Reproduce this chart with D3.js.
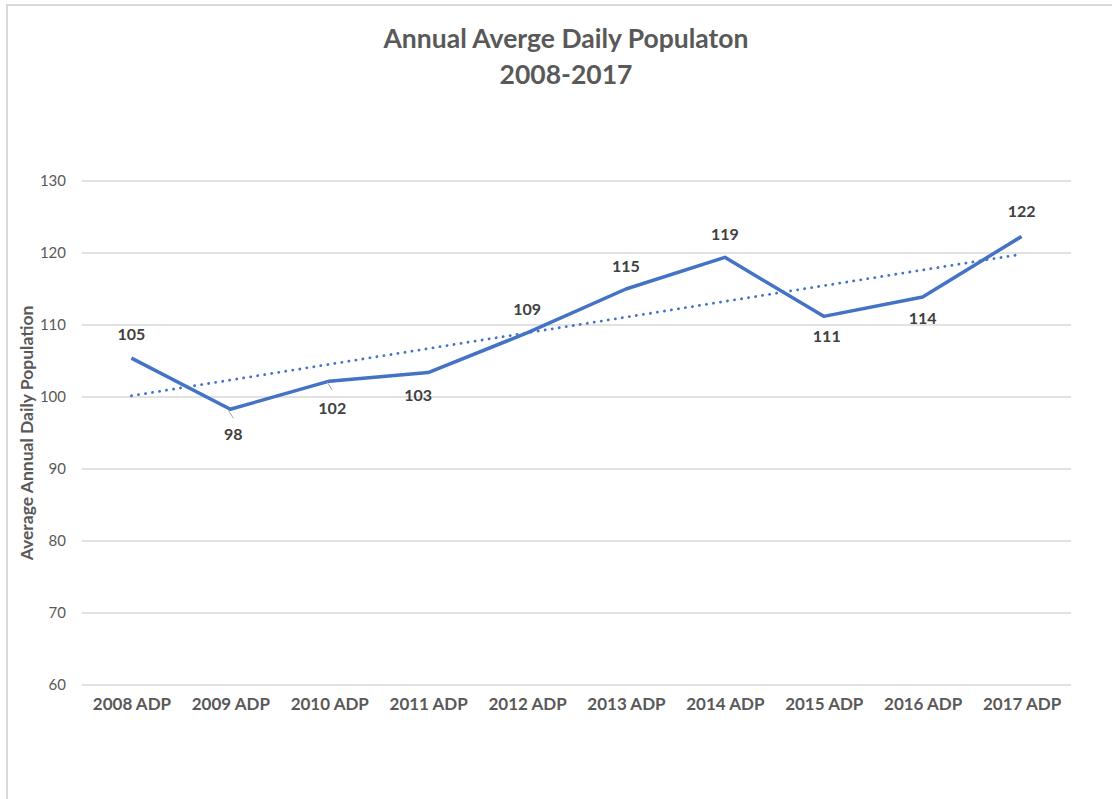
<!DOCTYPE html>
<html>
<head>
<meta charset="utf-8">
<script src="https://cdn.jsdelivr.net/npm/d3@7"></script>
<style>
  body { margin: 0; background: #fff; }
  svg text { font-family: Lato, "Open Sans", sans-serif; fill: #595959; }
</style>
</head>
<body>
<div id="chart"></div>
<script>
// Chart data.
var categories = ['2008 ADP', '2009 ADP', '2010 ADP', '2011 ADP', '2012 ADP',
                  '2013 ADP', '2014 ADP', '2015 ADP', '2016 ADP', '2017 ADP'];
var adpValues = [105.4, 98.3, 102.2, 103.4, 108.9, 115.0, 119.4, 111.2, 113.9, 122.3];
var yTicks = [60, 70, 80, 90, 100, 110, 120, 130];

var width = 1112, height = 799;
var margin = {top: 181, right: 41, bottom: 114, left: 82};

var svg = d3.select('#chart')
            .append('svg')
            .attr('width', width)
            .attr('height', height);

// Chart area border (left and top edges visible).
svg.append('rect')
   .attr('x', 7)
   .attr('y', 5)
   .attr('width', width)
   .attr('height', height)
   .attr('fill', 'none')
   .attr('stroke', '#d9d9d9')
   .attr('stroke-width', 2);

var x = d3.scalePoint()
          .domain(categories)
          .range([margin.left, width - margin.right])
          .padding(0.5);

var y = d3.scaleLinear()
          .domain([60, 130])
          .range([height - margin.bottom, margin.top]);

// Gridlines.
svg.append('g')
   .selectAll('line')
   .data(yTicks)
   .join('line')
   .attr('x1', margin.left)
   .attr('x2', width - margin.right)
   .attr('y1', function(d) { return y(d); })
   .attr('y2', function(d) { return y(d); })
   .attr('stroke', '#d9d9d9')
   .attr('stroke-width', 1.3);

// Y axis labels.
var yAxis = svg.append('g')
   .attr('transform', 'translate(' + (margin.left - 16) + ',0)')
   .call(d3.axisLeft(y).tickValues(yTicks).tickSize(0).tickPadding(0));
yAxis.select('.domain').remove();
yAxis.selectAll('text')
     .attr('font-size', 15)
     .style('fill', '#595959')
     .style('font-family', 'Lato, sans-serif');

// X axis labels.
var xAxis = svg.append('g')
   .attr('transform', 'translate(0,' + (height - margin.bottom + 13) + ')')
   .call(d3.axisBottom(x).tickSize(0).tickPadding(0));
xAxis.select('.domain').remove();
xAxis.selectAll('text')
     .attr('font-size', 17)
     .attr('font-weight', 'bold')
     .attr('dy', '0.71em')
     .style('fill', '#595959')
     .style('font-family', 'Lato, sans-serif');

// Trendline (linear least squares).
var n = adpValues.length;
var xs = d3.range(n);
var mx = d3.mean(xs), my = d3.mean(adpValues);
var slope = d3.sum(xs, function(i) { return (i - mx) * (adpValues[i] - my); }) /
            d3.sum(xs, function(i) { return (i - mx) * (i - mx); });
var intercept = my - slope * mx;

svg.append('line')
   .attr('x1', x(categories[0]))
   .attr('y1', y(intercept))
   .attr('x2', x(categories[n - 1]))
   .attr('y2', y(intercept + slope * (n - 1)))
   .attr('stroke', '#4472c4')
   .attr('stroke-width', 2.8)
   .attr('stroke-linecap', 'round')
   .attr('stroke-dasharray', '0.1 7');

// Main line.
var line = d3.line()
             .x(function(d, i) { return x(categories[i]); })
             .y(function(d) { return y(d); });

svg.append('path')
   .datum(adpValues)
   .attr('d', line)
   .attr('fill', 'none')
   .attr('stroke', '#4472c4')
   .attr('stroke-width', 3.5)
   .attr('stroke-linejoin', 'round');

// Leader lines for labels pushed off the point.
var leaders = [1, 2];
svg.append('g')
   .selectAll('line')
   .data(leaders)
   .join('line')
   .attr('x1', function(i) { return x(categories[i]) - 2; })
   .attr('y1', function(i) { return y(adpValues[i]) + 1; })
   .attr('x2', function(i) { return x(categories[i]) + 3; })
   .attr('y2', function(i) { return y(adpValues[i]) + 9; })
   .attr('stroke', '#a6a6a6')
   .attr('stroke-width', 1);

// Data labels.
var labelDx = [0, 3, 3, -10, 0, 0, 0, 3, 0, 0];
var labelDy = [-18, 31, 33, 28, -18, -17, -17, 26, 27, -19];
svg.append('g')
   .selectAll('text')
   .data(adpValues)
   .join('text')
   .attr('x', function(d, i) { return x(categories[i]) + labelDx[i]; })
   .attr('y', function(d, i) { return y(d) + labelDy[i]; })
   .attr('text-anchor', 'middle')
   .attr('font-size', 16)
   .attr('font-weight', 'bold')
   .style('fill', '#404040')
   .text(function(d) { return Math.round(d); });

// Title.
svg.append('text')
   .attr('x', 566)
   .attr('y', 48)
   .attr('text-anchor', 'middle')
   .attr('font-size', 26.5)
   .attr('font-weight', 'bold')
   .text('Annual Averge Daily Populaton');
svg.append('text')
   .attr('x', 566)
   .attr('y', 84)
   .attr('text-anchor', 'middle')
   .attr('font-size', 26.5)
   .attr('font-weight', 'bold')
   .text('2008-2017');

// Y axis title.
svg.append('text')
   .attr('transform', 'translate(33,' + y(95) + ') rotate(-90)')
   .attr('text-anchor', 'middle')
   .attr('font-size', 17.5)
   .attr('font-weight', 'bold')
   .text('Average Annual Daily Population');
</script>
</body>
</html>
